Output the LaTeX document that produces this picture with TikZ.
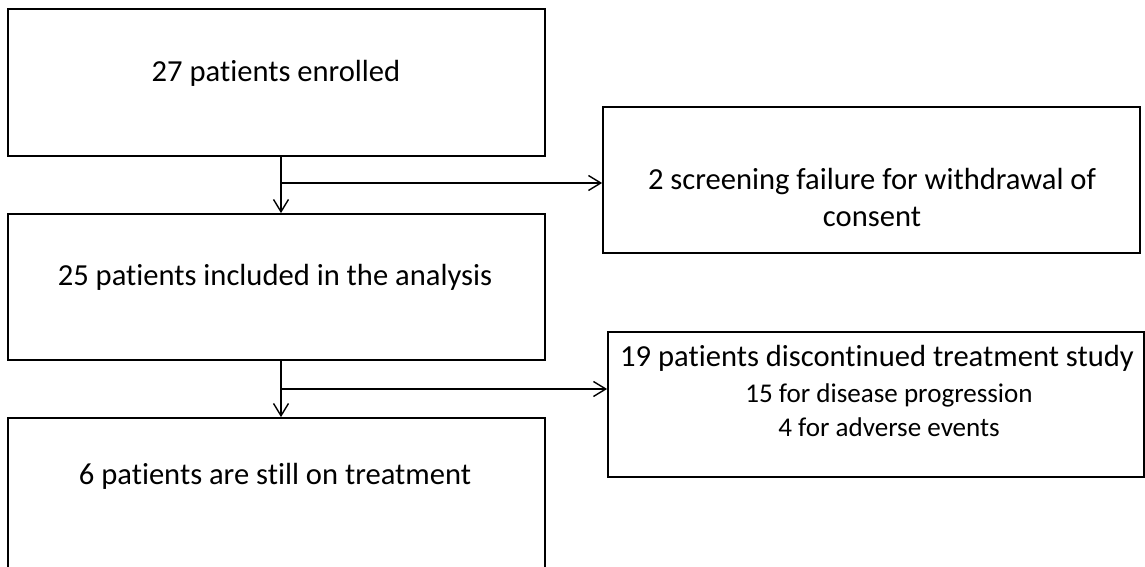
\documentclass[tikz,border=0pt]{standalone}
\usepackage{fontspec}
\setmainfont{Carlito}[Ligatures=NoCommon]
\usetikzlibrary{arrows.meta}

\begin{document}
\begin{tikzpicture}
		\tikzstyle{stage}=[draw,
			line width=1pt,
			inner sep=0pt,
			minimum width=10.74cm,
			minimum height=2.93cm,
			];
		\tikzstyle{label}=[anchor=base,
			inner sep=0pt,
			font=\fontsize{17.4}{21}\selectfont,
			];
		\tikzstyle{sublabel}=[anchor=base,
			inner sep=0pt,
			font=\fontsize{15.4}{19}\selectfont,
			];
		\tikzstyle{flow}=[line width=0.8pt,
			-{Straight Barb[length=7pt,width=8.5pt]},
			];

		\useasboundingbox (0,0) rectangle (22.9,11.32);

		\node [stage] (enrolled) at (5.53,9.67) {};
		\node [label] (enrolledtext) at (5.52,9.68) {27 patients enrolled};

		\node [stage] (failure) at (17.43,7.72) [minimum height=2.92cm] {};
		\node [label] (failuretext) at (17.44,7.52) {2 screening failure for withdrawal of};
		\node [label] (failuretextb) at (17.44,6.78) {consent};

		\node [stage] (analysed) at (5.53,5.58) [minimum height=2.92cm] {};
		\node [label] (analysedtext) at (5.5,5.6) {25 patients included in the analysis};

		\node [stage] (discont) at (17.52,3.23) [minimum width=10.72cm,minimum height=2.9cm] {};
		\node [label] (disconttext) at (17.54,3.98) {19 patients discontinued treatment study};
		\node [sublabel] (progtext) at (17.78,3.26) {15 for disease progression};
		\node [sublabel] (adversetext) at (17.78,2.58) {4 for adverse events};

		\node [stage] (ontreat) at (5.53,1.36) [minimum height=3.2cm] {};
		\node [label] (ontreattext) at (5.5,1.62) {6 patients are still on treatment};

		\coordinate (split1) at (5.62,7.66);
		\draw [flow] (enrolled.south -| split1) -- (analysed.north -| split1);
		\draw [flow] (split1) -- (split1 -| failure.west);

		\coordinate (split2) at (5.62,3.54);
		\draw [flow] (analysed.south -| split2) -- (ontreat.north -| split2);
		\draw [flow] (split2) -- (split2 -| discont.west);
	\end{tikzpicture}
\end{document}
